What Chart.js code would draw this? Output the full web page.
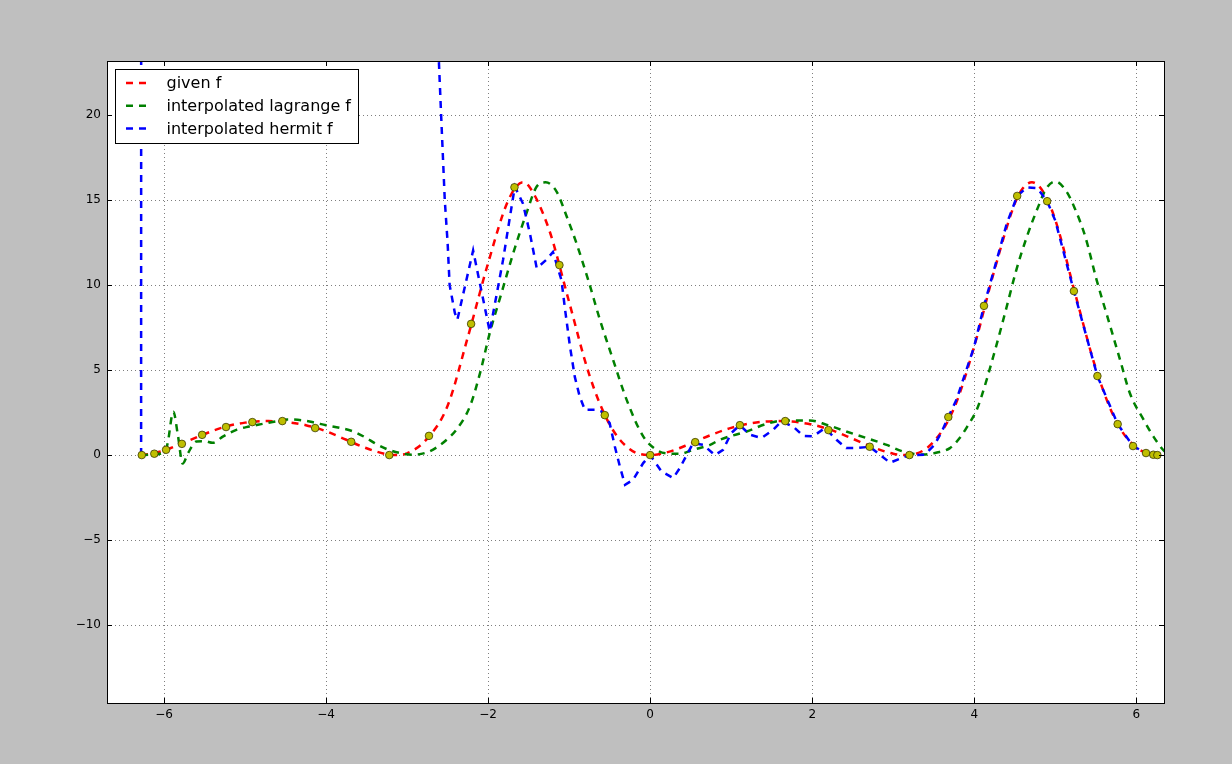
<!DOCTYPE html>
<html>
<head>
<meta charset="utf-8">
<title>interpolation</title>
<script src="https://cdn.jsdelivr.net/npm/chart.js@4.4.0/dist/chart.umd.min.js"></script>
<style>
  html, body { margin: 0; padding: 0; background: #bfbfbf; }
  #wrap { width: 1232px; height: 764px; }
</style>
</head>
<body>
<div id="wrap"><canvas id="plot" width="1232" height="764"></canvas></div>
<script>
// values

const xTicks = [-6, -4, -2, 0, 2, 4, 6];
const yTicks = [-10, -5, 0, 5, 10, 15, 20];

// given f (red)
const givenX = [-6.283, -6.25, -6.0, -5.75, -5.5, -5.25, -5.0, -4.712, -4.5, -4.25, -4.0, -3.75, -3.5, -3.25, -3.142,
  -3.0, -2.75, -2.5, -2.25, -2.0, -1.75, -1.571, -1.5, -1.25, -1.0, -0.75, -0.5, -0.25, 0,
  0.25, 0.5, 0.75, 1.0, 1.25, 1.571, 1.75, 2.0, 2.25, 2.5, 2.75, 3.0, 3.142,
  3.25, 3.5, 3.75, 4.0, 4.25, 4.5, 4.6, 4.712, 4.85, 5.0, 5.25, 5.5, 5.75, 6.0, 6.25, 6.283];
const givenY = [0, 0.01, 0.27, 0.74, 1.24, 1.66, 1.91, 2.0, 1.95, 1.76, 1.40, 0.90, 0.40, 0.05, 0,
  0.10, 0.98, 2.9, 6.95, 11.3, 15.0, 16.05, 15.85, 13.3, 9.0, 4.7, 1.8, 0.34, 0,
  0.22, 0.68, 1.18, 1.6, 1.88, 2.0, 1.97, 1.79, 1.45, 0.96, 0.46, 0.08, 0,
  0.04, 0.79, 2.75, 6.4, 10.9, 14.8, 15.7, 16.05, 15.5, 13.85, 9.42, 5.1, 2.0, 0.45, 0.01, 0];

// interpolated lagrange f (green)
const lagrangeX = [-6.283, -6.15, -6.02, -5.96, -5.885, -5.83, -5.77, -5.70, -5.6, -5.5, -5.4, -5.27, -5.1, -4.95,
  -4.8, -4.6, -4.48, -4.3, -4.15, -4.0, -3.83, -3.67, -3.5, -3.4, -3.25, -3.09, -2.93, -2.76, -2.62,
  -2.5, -2.39, -2.225, -2.10, -1.98, -1.835, -1.69, -1.526, -1.40, -1.29, -1.155, -1.03, -0.91, -0.765,
  -0.62, -0.457, -0.29, -0.086, 0.079, 0.2, 0.37, 0.53, 0.74, 0.86, 1.19, 1.44, 1.68, 1.97, 2.18,
  2.42, 2.67, 2.92, 3.12, 3.37, 3.54, 3.70, 3.82, 3.91, 4.03, 4.09, 4.235, 4.38, 4.52, 4.65, 4.79,
  4.89, 5.0, 5.14, 5.24, 5.37, 5.51, 5.655, 5.80, 5.92, 6.09, 6.21, 6.33, 6.40];
const lagrangeY = [0, 0.03, 0.12, 0.6, 2.55, 1.2, -0.5, 0.15, 0.8, 0.82, 0.72, 1.1, 1.5, 1.68,
  1.82, 2.0, 2.1, 2.05, 1.92, 1.75, 1.6, 1.4, 1.0, 0.7, 0.35, 0.12, 0.02, 0.15, 0.5,
  0.95, 1.5, 2.86, 4.82, 7.18, 9.53, 11.88, 14.24, 15.8, 16.05, 15.5, 14.04, 12.47, 10.31,
  7.96, 5.6, 3.25, 1.1, 0.3, 0.1, 0.08, 0.31, 0.6, 0.9, 1.39, 1.84, 2.04, 2.04, 1.78,
  1.39, 1.0, 0.6, 0.21, 0.03, 0.15, 0.41, 1.0, 1.65, 2.66, 3.45, 5.8, 8.35, 10.9, 12.86, 14.62,
  15.7, 16.1, 15.5, 14.53, 12.86, 10.31, 7.96, 5.6, 3.65, 2.08, 1.1, 0.31, 0];

// interpolated hermit f (blue), runs far above the plot between -6.27 and -2.6
const hermitX = [-6.283, -6.27, -2.66, -2.615, -2.58, -2.535, -2.5, -2.475, -2.41, -2.38, -2.185, -1.98, -1.815,
  -1.73, -1.67, -1.57, -1.485, -1.40, -1.28, -1.20, -1.095, -1.05, -0.99, -0.93, -0.87, -0.806,
  -0.66, -0.6, -0.5, -0.436, -0.374, -0.31, -0.21, -0.086, 0, 0.14, 0.284, 0.367, 0.45, 0.53,
  0.654, 0.8, 0.9, 1.0, 1.107, 1.23, 1.375, 1.52, 1.62, 1.765, 1.89, 2.01, 2.157, 2.30, 2.42,
  2.55, 2.71, 2.84, 2.96, 3.10, 3.2, 3.39, 3.51, 3.6, 3.68, 3.78, 4.0, 4.12, 4.25, 4.4, 4.53,
  4.65, 4.78, 4.9, 5.0, 5.23, 5.52, 5.77, 5.96, 6.12, 6.21, 6.26];
const hermitY = [0, 400, 400, 24, 20, 15, 12.5, 10, 8.35, 7.96, 12.04, 7.27, 11.5,
  14.04, 15.8, 14.8, 13.06, 11.0, 11.5, 11.95, 10.3, 8.55, 6.4, 4.6, 3.45, 2.66,
  2.66, 2.56, 1.88, 0.5, -0.67, -1.75, -1.45, -0.47, 0, -0.96, -1.35, -0.76, 0, 0.7,
  0.6, 0, 0.31, 1.29, 1.76, 1.2, 1.0, 1.49, 1.98, 1.68, 1.13, 1.1, 1.59, 0.9, 0.41,
  0.41, 0.49, 0, -0.45, -0.18, 0, 0.02, 0.6, 1.39, 2.24, 3.25, 6.4, 8.78, 11.0, 13.6, 15.25,
  15.75, 15.7, 14.94, 13.8, 9.65, 4.65, 1.82, 0.53, 0.12, 0.02, 0];

// interpolation nodes (yellow dots)
const nodeX = [-6.275, -6.12, -5.975, -5.78, -5.53, -5.235, -4.91, -4.54, -4.135, -3.69, -3.22, -2.73, -2.21,
  -1.675, -1.12, -0.56, 0, 0.556, 1.107, 1.667, 2.2, 2.71, 3.2, 3.68, 4.12, 4.53, 4.90, 5.23,
  5.52, 5.77, 5.96, 6.12, 6.21, 6.26];
const nodeY = [0, 0.08, 0.31, 0.66, 1.19, 1.65, 1.94, 2.0, 1.59, 0.78, 0, 1.13, 7.72,
  15.76, 11.18, 2.35, 0, 0.76, 1.76, 2.0, 1.47, 0.49, 0, 2.24, 8.78, 15.25, 14.94, 9.65,
  4.65, 1.82, 0.53, 0.12, 0.02, 0];

const X_MIN = -6.704, X_MAX = 6.342;
const Y_MIN = -14.59, Y_MAX = 23.19;

function pts(xs, ys) {
  return xs.map((x, i) => ({ x: x, y: ys[i] }));
}

function fmtTick(v) {
  return v < 0 ? '\u2212' + Math.abs(v) : String(v);
}

// white axes background
const axesBg = {
  id: 'axesBg',
  beforeDraw(chart) {
    const { ctx, chartArea: a } = chart;
    ctx.save();
    ctx.fillStyle = '#fff';
    ctx.fillRect(a.left, a.top, a.right - a.left, a.bottom - a.top);
    ctx.restore();
  }
};

// box around the axes plus small inward ticks on all four sides
const frameTicks = {
  id: 'frameTicks',
  afterDatasetsDraw(chart) {
    const { ctx, chartArea: a } = chart;
    const xs = chart.scales.x, ys = chart.scales.y;
    ctx.save();
    ctx.strokeStyle = '#000';
    ctx.lineWidth = 1;
    ctx.setLineDash([]);
    ctx.beginPath();
    xTicks.forEach(v => {
      const px = Math.round(xs.getPixelForValue(v)) + 0.5;
      ctx.moveTo(px, a.bottom); ctx.lineTo(px, a.bottom - 5);
      ctx.moveTo(px, a.top); ctx.lineTo(px, a.top + 5);
    });
    yTicks.forEach(v => {
      const py = Math.round(ys.getPixelForValue(v)) + 0.5;
      ctx.moveTo(a.left, py); ctx.lineTo(a.left + 5, py);
      ctx.moveTo(a.right, py); ctx.lineTo(a.right - 5, py);
    });
    ctx.stroke();
    ctx.strokeRect(Math.round(a.left) + 0.5, Math.round(a.top) + 0.5,
      Math.round(a.right - a.left), Math.round(a.bottom - a.top));
    ctx.restore();
  }
};

// matplotlib-like legend box in the upper left corner
const legendBox = {
  id: 'legendBox',
  afterDraw(chart) {
    const { ctx, chartArea: a } = chart;
    const items = chart.data.datasets.filter(d => d.label);
    ctx.save();
    ctx.font = '16px "DejaVu Sans"';
    const textW = Math.max(...items.map(d => ctx.measureText(d.label).width));
    const left = Math.round(a.left + 8) + 0.5;
    const top = Math.round(a.top + 8) + 0.5;
    const w = Math.round(51 + textW + 8);
    const h = 74;
    ctx.fillStyle = '#fff';
    ctx.fillRect(left, top, w, h);
    ctx.strokeStyle = '#000';
    ctx.lineWidth = 1;
    ctx.strokeRect(left, top, w, h);
    items.forEach((d, i) => {
      const y = top + 13.5 + i * 22.8;
      ctx.strokeStyle = d.borderColor;
      ctx.lineWidth = 2.5;
      ctx.setLineDash([7, 6]);
      ctx.beginPath();
      ctx.moveTo(left + 10.5, y);
      ctx.lineTo(left + 31.5, y);
      ctx.stroke();
      ctx.setLineDash([]);
      ctx.fillStyle = '#000';
      ctx.textBaseline = 'middle';
      ctx.fillText(d.label, left + 51, y + 1);
    });
    ctx.restore();
  }
};

function lineSet(label, data, color, order, smooth) {
  return {
    label: label,
    data: data,
    borderColor: color,
    backgroundColor: color,
    borderWidth: 2.5,
    borderDash: [7, 6],
    pointRadius: 0,
    fill: false,
    tension: 0,
    cubicInterpolationMode: smooth ? 'monotone' : 'default',
    order: order
  };
}

const ctx = document.getElementById('plot').getContext('2d');
new Chart(ctx, {
  type: 'line',
  data: {
    datasets: [
      {
        type: 'scatter',
        data: pts(nodeX, nodeY),
        showLine: false,
        pointRadius: 3.8,
        pointBackgroundColor: '#bfbf00',
        pointBorderColor: '#3a3a00',
        pointBorderWidth: 0.8,
        order: 0
      },
      lineSet('given f', pts(givenX, givenY), '#ff0000', 3, true),
      lineSet('interpolated lagrange f', pts(lagrangeX, lagrangeY), '#008000', 2, true),
      lineSet('interpolated hermit f', pts(hermitX, hermitY), '#0000ff', 1, false)
    ]
  },
  options: {
    responsive: false,
    animation: false,
    devicePixelRatio: 1,
    layout: { padding: { left: 0, top: 61, right: 68, bottom: 0 } },
    plugins: {
      legend: { display: false },
      tooltip: { enabled: false }
    },
    scales: {
      x: {
        type: 'linear',
        min: X_MIN,
        max: X_MAX,
        afterBuildTicks: s => { s.ticks = xTicks.map(v => ({ value: v })); },
        afterFit: s => { s.height = 61; },
        ticks: {
          callback: v => fmtTick(v),
          color: '#000',
          padding: 5,
          maxRotation: 0,
          font: { family: 'DejaVu Sans', size: 12 }
        },
        grid: { color: 'rgba(0,0,0,0.5)', lineWidth: 1, drawTicks: false },
        border: { display: false, dash: [1, 3] }
      },
      y: {
        type: 'linear',
        min: Y_MIN,
        max: Y_MAX,
        afterBuildTicks: s => { s.ticks = yTicks.map(v => ({ value: v })); },
        afterFit: s => { s.width = 107; },
        ticks: {
          callback: v => fmtTick(v),
          color: '#000',
          padding: 6,
          font: { family: 'DejaVu Sans', size: 12 }
        },
        grid: { color: 'rgba(0,0,0,0.5)', lineWidth: 1, drawTicks: false },
        border: { display: false, dash: [1, 3] }
      }
    }
  },
  plugins: [axesBg, frameTicks, legendBox]
});
</script>
</body>
</html>
